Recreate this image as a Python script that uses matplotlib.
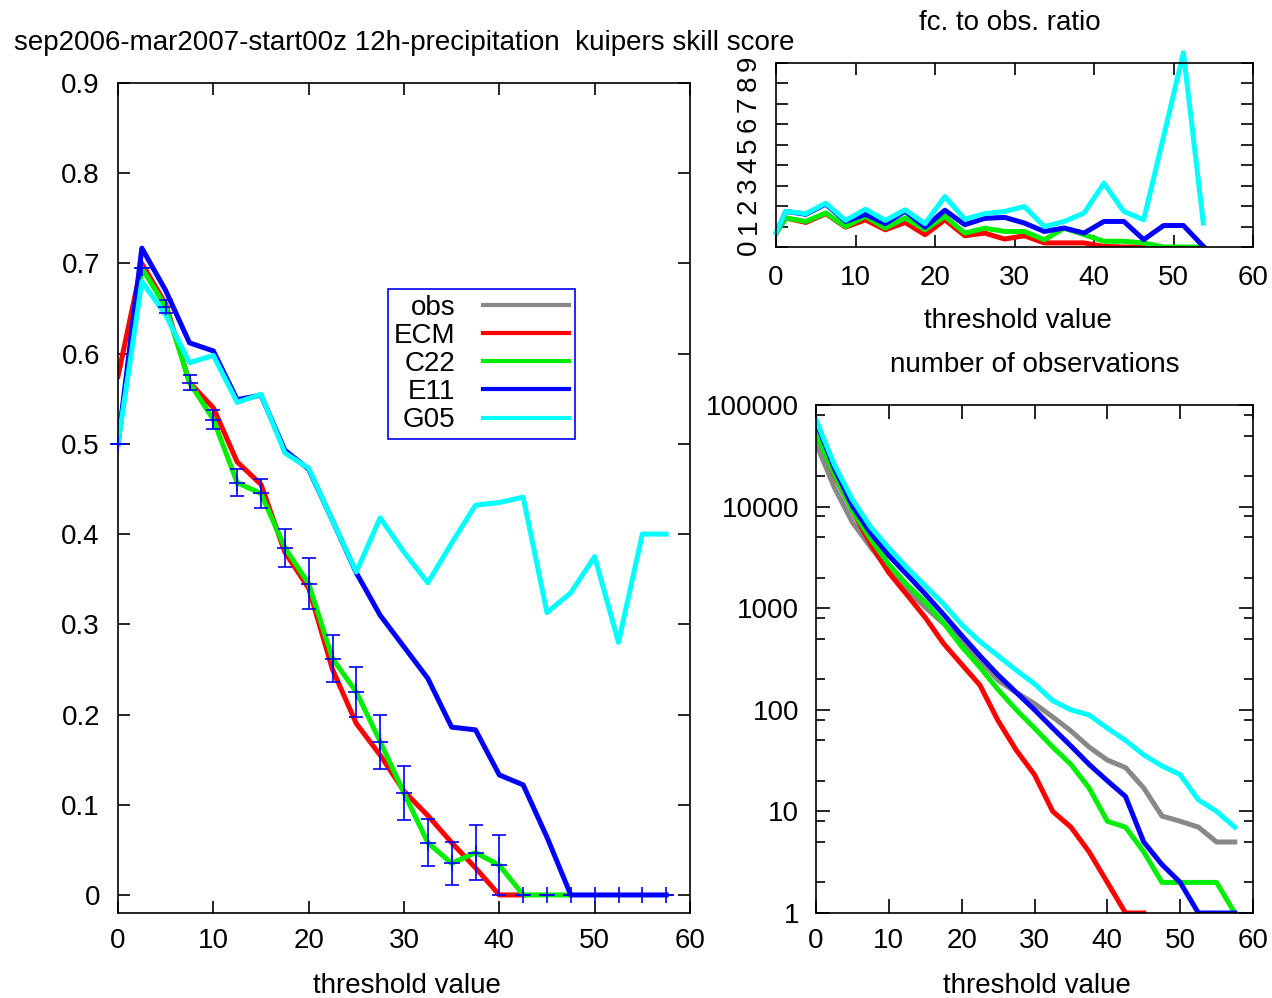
import numpy as np
import matplotlib
matplotlib.use("Agg")
import matplotlib.pyplot as plt
from matplotlib.ticker import FixedLocator, FuncFormatter, LogLocator, NullFormatter

plt.rcParams['font.family'] = ['Liberation Sans', 'DejaVu Sans']
FS = 20

# ---------------- data ----------------
# Kuipers skill score (main panel)
thr_main = [0, 2.5, 5, 7.5, 10, 12.5, 15, 17.5, 20, 22.5, 25, 27.5, 30, 32.5,
            35, 37.5, 40, 42.5, 45, 47.5, 50, 52.5, 55, 57.5]
kss_ecm = [0.575, 0.70, 0.655, 0.568, 0.540, 0.480, 0.455, 0.380, 0.340, 0.250,
           0.190, 0.155, 0.115, 0.088, 0.058, 0.030, 0.0, 0.0]
kss_c22 = [0.50, 0.695, 0.652, 0.568, 0.527, 0.457, 0.445, 0.385, 0.345, 0.262,
           0.225, 0.170, 0.113, 0.058, 0.035, 0.047, 0.033, 0.0, 0.0, 0.0]
kss_e11 = [0.50, 0.717, 0.670, 0.612, 0.603, 0.549, 0.554, 0.493, 0.472, 0.415,
           0.357, 0.310, 0.275, 0.240, 0.186, 0.183, 0.133, 0.122, 0.064, 0.0,
           0.0, 0.0, 0.0, 0.0]
kss_g05 = [0.50, 0.680, 0.643, 0.590, 0.598, 0.546, 0.555, 0.490, 0.473, 0.415,
           0.358, 0.418, 0.380, 0.346, 0.390, 0.432, 0.435, 0.441, 0.313, 0.335,
           0.375, 0.280, 0.400, 0.400]
# confidence interval (half width) around C22
err_half = [0.0, 0.0, 0.007, 0.008, 0.010, 0.015, 0.016, 0.021, 0.028, 0.026,
            0.028, 0.030, 0.030, 0.026, 0.024, 0.030, 0.033, 0.0, 0.0, 0.0,
            0.0, 0.0, 0.0, 0.0]
err_center = kss_c22 + [0.0, 0.0, 0.0, 0.0]

# fc. to obs. ratio (top-right panel)
thr_ratio = [0, 1.25, 3.75, 6.25, 8.75, 11.25, 13.75, 16.25, 18.75, 21.25, 23.75,
             26.25, 28.75, 31.25, 33.75, 36.25, 38.75, 41.25, 43.75, 46.25,
             48.75, 51.25, 53.75]
ratio_ecm = [0.68, 1.42, 1.20, 1.63, 0.97, 1.33, 0.84, 1.20, 0.60, 1.33, 0.55,
             0.68, 0.39, 0.55, 0.20, 0.20, 0.20, 0.03, 0.0, 0.0]
ratio_c22 = [0.68, 1.42, 1.25, 1.66, 1.00, 1.50, 0.92, 1.42, 0.84, 1.50, 0.68,
             0.92, 0.76, 0.76, 0.35, 0.92, 0.60, 0.28, 0.28, 0.20, 0.0, 0.0, 0.0]
ratio_e11 = [0.68, 1.74, 1.60, 2.10, 1.25, 1.60, 1.14, 1.75, 0.97, 1.80, 1.09,
             1.40, 1.45, 1.17, 0.76, 0.93, 0.68, 1.25, 1.25, 0.36, 1.05, 1.05, 0.03]
ratio_g05 = [0.68, 1.74, 1.63, 2.14, 1.30, 1.85, 1.30, 1.82, 1.14, 2.47, 1.36,
             1.63, 1.74, 1.98, 1.00, 1.25, 1.66, 3.12, 1.74, 1.33, 5.40, 9.50, 1.17]

# number of observations (bottom-right panel)
thr_nobs = thr_main
nobs_obs = [42000, 15500, 7000, 4000, 2340, 1510, 1020, 710, 480, 310, 195, 148,
            115, 85, 62, 43, 32, 27, 17, 9, 8, 7, 5, 5]
nobs_ecm = [56000, 20400, 9100, 4270, 2240, 1350, 810, 450, 280, 175, 78, 40,
            23, 10, 7, 4, 2, 1, 1]
nobs_c22 = [52500, 20900, 9100, 4800, 2700, 1700, 1150, 720, 420, 263, 158, 100,
            66, 43, 29, 17, 8, 7, 4, 2, 2, 2, 2, 1]
nobs_e11 = [69000, 24000, 10200, 5500, 3300, 2140, 1380, 870, 540, 340, 220, 148,
            100, 66, 44, 29, 20, 14, 5, 3, 2, 1, 1, 1]
nobs_g05 = [72000, 26000, 11700, 6300, 3900, 2500, 1660, 1100, 690, 470, 340, 245,
            180, 123, 100, 89, 66, 50, 36, 28, 23, 13, 10, 7]

series_names = ['obs', 'ECM', 'C22', 'E11', 'G05']
colors = {'obs': '#888888', 'ECM': '#ff0000', 'C22': '#00ee00',
          'E11': '#0000ff', 'G05': '#00ffff'}

# ---------------- figure ----------------
W, H = 1272, 998
fig = plt.figure(figsize=(W / 100, H / 100), dpi=100)


def fax(l, t, r, b):
    return fig.add_axes([l / W, 1 - b / H, (r - l) / W, (b - t) / H])


LW = 3.6
FRAME = 1.2


def style(ax, length=8.5, pad=11):
    for s in ax.spines.values():
        s.set_linewidth(FRAME)
        s.set_color('black')
    ax.tick_params(which='major', direction='in', length=length, width=FRAME,
                   top=True, right=True, labelsize=FS, pad=pad, colors='black')
    ax.tick_params(which='minor', direction='in', length=length * 0.65,
                   width=FRAME, top=True, right=True)


# main panel
ax1 = fax(118, 83, 690, 913)
x = np.array(thr_main)
ax1.plot([], [], color=colors['obs'], lw=LW, label='obs')
ax1.plot(x[:len(kss_ecm)], kss_ecm, color=colors['ECM'], lw=LW, label='ECM')
ax1.plot(x[:len(kss_c22)], kss_c22, color=colors['C22'], lw=LW, label='C22')
ax1.plot(x[:len(kss_e11)], kss_e11, color=colors['E11'], lw=LW, label='E11')
ax1.plot(x[:len(kss_g05)], kss_g05, color=colors['G05'], lw=LW, label='G05')
ax1.errorbar(x, err_center, yerr=err_half, fmt='+', color='#0000ff', ms=11.5,
             mew=1.2, elinewidth=1.2, capsize=5, capthick=1.2, clip_on=False,
             zorder=5)
ax1.set_xlim(0, 60)
ax1.set_ylim(-0.02, 0.9)
ax1.xaxis.set_major_locator(FixedLocator(np.arange(0, 61, 10)))
ax1.yaxis.set_major_locator(FixedLocator(np.round(np.arange(0, 0.91, 0.1), 1)))
ax1.yaxis.set_major_formatter(FuncFormatter(lambda v, p: '%g' % v))
style(ax1)
ax1.tick_params(axis='y', pad=13)
leg = ax1.legend(loc='upper left', bbox_to_anchor=(388 / W, 1 - 289 / H),
                 bbox_transform=fig.transFigure, borderaxespad=0,
                 markerfirst=False, fontsize=FS, handlelength=3.1,
                 handletextpad=1.0, labelspacing=0.08, borderpad=0.2,
                 fancybox=False, framealpha=1, frameon=True)
leg.get_frame().set_edgecolor('#0000ff')
leg.get_frame().set_linewidth(1.2)
for ln in leg.get_lines():
    ln.set_linewidth(3.0)

# ratio panel
ax2 = fax(776, 63, 1253, 247)
xr = np.array(thr_ratio)
ax2.plot(xr[:len(ratio_ecm)], ratio_ecm, color=colors['ECM'], lw=LW)
ax2.plot(xr[:len(ratio_c22)], ratio_c22, color=colors['C22'], lw=LW)
ax2.plot(xr[:len(ratio_e11)], ratio_e11, color=colors['E11'], lw=LW)
ax2.plot(xr[:len(ratio_g05)], ratio_g05, color=colors['G05'], lw=LW, clip_on=False)
ax2.set_xlim(0, 60)
ax2.set_ylim(0, 9)
ax2.xaxis.set_major_locator(FixedLocator(np.arange(0, 61, 10)))
ax2.yaxis.set_major_locator(FixedLocator(np.arange(0, 10, 1)))
style(ax2, pad=13)
ax2.tick_params(axis='y', pad=10)
for lab in ax2.get_yticklabels():
    lab.set_rotation(90)
    lab.set_va('center')

# number of observations panel
ax3 = fax(816, 405, 1253, 913)
xn = np.array(thr_nobs)
ax3.plot(xn[:len(nobs_obs)], nobs_obs, color=colors['obs'], lw=LW)
ax3.plot(xn[:len(nobs_ecm)], nobs_ecm, color=colors['ECM'], lw=LW)
ax3.plot(xn[:len(nobs_c22)], nobs_c22, color=colors['C22'], lw=LW)
ax3.plot(xn[:len(nobs_e11)], nobs_e11, color=colors['E11'], lw=LW)
ax3.plot(xn[:len(nobs_g05)], nobs_g05, color=colors['G05'], lw=LW)
ax3.set_yscale('log')
ax3.set_xlim(0, 60)
ax3.set_ylim(1, 100000)
ax3.xaxis.set_major_locator(FixedLocator(np.arange(0, 61, 10)))
ax3.yaxis.set_major_locator(FixedLocator([1, 10, 100, 1000, 10000, 100000]))
ax3.yaxis.set_minor_locator(LogLocator(base=10, subs=(2, 5, 8)))
ax3.yaxis.set_minor_formatter(NullFormatter())
ax3.yaxis.set_major_formatter(FuncFormatter(lambda v, p: '%d' % round(v)))
style(ax3, length=10)
ax3.tick_params(axis='y', pad=12)

# titles and axis labels
fig.text(404 / W, 1 - 43 / H,
         'sep2006-mar2007-start00z 12h-precipitation  kuipers skill score',
         ha='center', va='center', fontsize=FS)
fig.text(1010 / W, 1 - 23 / H, 'fc. to obs. ratio', ha='center', va='center',
         fontsize=FS)
fig.text(1035 / W, 1 - 365 / H, 'number of observations', ha='center',
         va='center', fontsize=FS)
fig.text(407 / W, 1 - 986 / H, 'threshold value', ha='center', va='center',
         fontsize=FS)
fig.text(1018 / W, 1 - 321 / H, 'threshold value', ha='center', va='center',
         fontsize=FS)
fig.text(1037 / W, 1 - 986 / H, 'threshold value', ha='center', va='center',
         fontsize=FS)

fig.savefig('out.png', dpi=100)
